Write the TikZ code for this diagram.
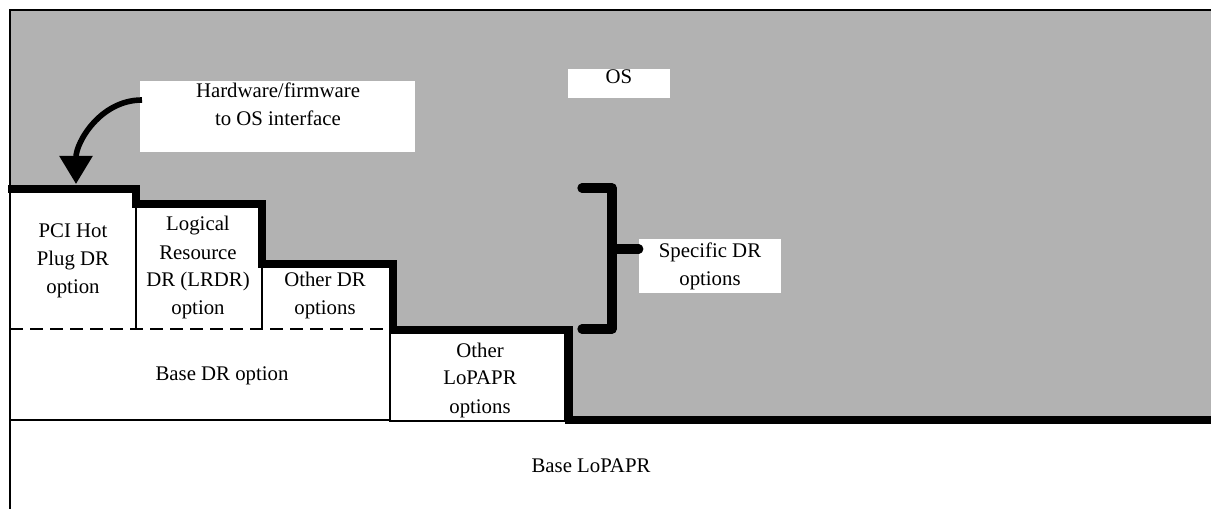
\documentclass[tikz,border=0pt]{standalone}
\usepackage{fontspec}
\setmainfont{Liberation Serif}
\usetikzlibrary{arrows.meta}
\definecolor{osgray}{gray}{0.7}
\begin{document}
\begin{tikzpicture}[x=0.75pt, y=-0.75pt,
  lbl/.style={align=center, inner sep=0pt, font=\fontsize{15.6}{21}\selectfont},
  thinline/.style={line width=1.5pt},
  stair/.style={line width=6pt, line join=miter},
  brk/.style={line width=7pt, line cap=round, line join=round},
  curvearrow/.style={line width=4.2pt, -{Triangle[width=24pt, length=21pt]}}]
  \useasboundingbox (0,0) rectangle (1211,509);

  % OS area and the white part below the steps
  \fill[osgray] (10,10) rectangle (1211,420);
  \fill[white] (10,189) -- (136,189) -- (136,204) -- (262,204) -- (262,264)
    -- (393,264) -- (393,330) -- (569,330) -- (569,420) -- (10,420) -- cycle;

  % frame
  \draw[thinline] (10,509) -- (10,10) -- (1211,10);

  % white label boxes
  \fill[white] (140,81) rectangle (415,152);
  \fill[white] (568,69) rectangle (670,98);
  \node[lbl] (hw) at (278,104) {Hardware/firmware\\to OS interface};
  \node[lbl] (os) at (619,77) {OS};

  % DR options
  \draw[thinline] (136,204) -- (136,329);
  \draw[thinline] (262,264) -- (262,329);
  \draw[thinline, dash pattern=on 10pt off 5pt] (10,329) -- (393,329);
  \draw[thinline] (10,420) -- (390,420) -- (390,329);
  \draw[thinline] (390,330) rectangle (565,421);

  \node[lbl] (pci) at (73,261) {PCI Hot\\Plug DR\\option};
  \node[lbl] (lrdr) at (198,268) {Logical\\Resource\\DR (LRDR)\\option};
  \node[lbl] (otherdr) at (325,296) {Other DR\\options};
  \node[lbl] (basedr) at (222,376) {Base DR option};
  \node[lbl] (lopapr) at (480,380) {Other\\LoPAPR\\options};
  \node[lbl] (baselopapr) at (591,466) {Base LoPAPR};

  % steps
  \draw[stair] (8,189) -- (136,189) -- (136,204) -- (262,204) -- (262,264)
    -- (393,264) -- (393,330) -- (569,330) -- (569,420) -- (1211,420);

  % interface arrow
  \coordinate (hwleft) at (142,100);
  \coordinate (pcitop) at (76,184);
  \draw[curvearrow] (hwleft) to[out=180, in=90] (pcitop);

  % specific DR bracket
  \node[lbl, fill=white, minimum width=106.5pt, minimum height=40.5pt] (specific)
    at (710,266) {Specific DR\\options};
  \coordinate (brkmid) at (612,249);
  \draw[brk] (582,188) -- (612,188) -- (612,329) -- (582,329);
  \draw[brk] (brkmid) -- (specific.west |- brkmid);
\end{tikzpicture}
\end{document}
